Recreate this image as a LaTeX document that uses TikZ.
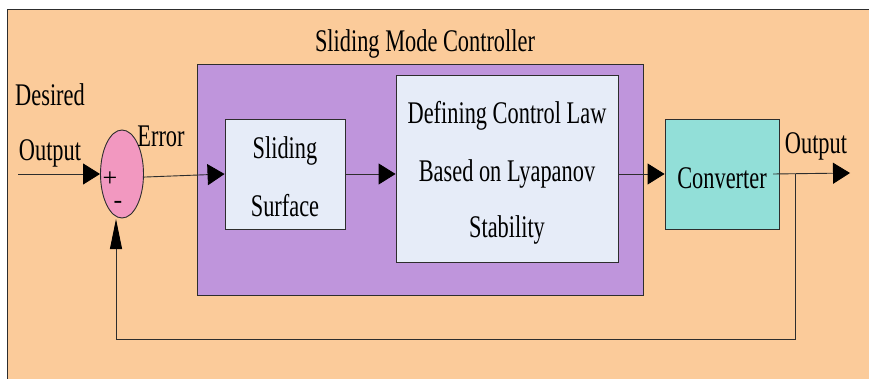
\documentclass[tikz,border=0pt]{standalone}
\usepackage{graphicx}
\usepackage{fontspec}
\setmainfont{Liberation Serif}
\usetikzlibrary{arrows.meta,shapes.geometric,calc}

\definecolor{peach}{RGB}{251,203,154}
\definecolor{lilac}{RGB}{191,149,220}
\definecolor{paleblue}{RGB}{230,236,248}
\definecolor{aqua}{RGB}{146,223,216}
\definecolor{rose}{RGB}{242,152,192}
\definecolor{edge}{RGB}{45,45,45}

% narrow, tall lettering
\newcommand{\narrowtext}[1]{\scalebox{0.71}[1]{#1}}

\tikzset{
  block/.style={draw=edge, line width=0.9pt, inner sep=0pt},
  lbl/.style={inner sep=0pt, font=\fontsize{31.5}{34}\selectfont},
  sign/.style={inner sep=0pt, font=\fontsize{26}{28}\selectfont},
  wire/.style={draw=edge, line width=0.9pt},
  tip/.style={-{Triangle[length=17pt,width=21pt,color=black]}},
  tipnarrow/.style={-{Triangle[length=30pt,width=12pt,color=black]}},
}

\begin{document}
\begin{tikzpicture}[x=1pt,y=-1pt]
  \useasboundingbox (0,0) rectangle (869,379);
  \fill[white] (0,0) rectangle (869,379);

  % outer frame
  \path[fill=peach, draw=edge, line width=0.9pt] (7,9) rectangle (880,390);

  % controller group
  \node[block, fill=lilac, minimum width=446pt, minimum height=231pt] (smc) at (420,179.5) {};
  \node[lbl] (smcl) at (425,44) {\narrowtext{Sliding Mode Controller}};

  % blocks
  \node[block, fill=paleblue, minimum width=120pt, minimum height=110pt] (ss) at (285,174) {};
  \node[lbl] (ss1) at (285,151) {\narrowtext{Sliding}};
  \node[lbl] (ss2) at (285,206) {\narrowtext{Surface}};

  \node[block, fill=paleblue, minimum width=222pt, minimum height=187pt] (cl) at (507,168.5) {};
  \node[lbl] (cl1) at (507,116) {\narrowtext{Defining Control Law}};
  \node[lbl] (cl2) at (507,174) {\narrowtext{Based on Lyapanov}};
  \node[lbl] (cl3) at (507,230) {\narrowtext{Stability}};

  \node[block, fill=aqua, minimum width=114pt, minimum height=110pt] (conv) at (722,174) {};
  \node[lbl] (convl) at (722,178) {\narrowtext{Converter}};

  % summing junction
  \node[ellipse, draw=edge, line width=0.9pt, fill=rose, minimum width=43pt, minimum height=88pt, inner sep=0pt] (sum) at (122,174) {};
  \node[sign] (plus) at (110,179) {+};
  \node[sign] (minus) at (118,205) {-};

  % free labels
  \node[lbl] (des) at (50,95) {\narrowtext{Desired}};
  \node[lbl] (inl) at (50,153) {\narrowtext{Output}};
  \node[lbl] (err) at (161,136) {\narrowtext{Error}};
  \node[lbl] (outl) at (816,146) {\narrowtext{Output}};

  % connectors
  \coordinate (in) at (18,174);
  \coordinate (ostart) at (773,174);
  \coordinate (oend) at (850,173);
  \coordinate (branch) at (795,174);
  \coordinate (fbR) at (795,339);
  \coordinate (fbL) at (116,339);
  \coordinate (fbE) at (116,219);

  \draw[wire, tip] (in) -- (sum.west);
  \draw[wire, tip] (sum.-8) -- (ss.west);
  \draw[wire, tip] (ss.east) -- (ss.east -| cl.west);
  \draw[wire, tip] (cl.east |- conv.west) -- (conv.west);
  \draw[wire, tip] (ostart) -- (oend);
  \draw[wire, tipnarrow] (branch) -- (fbR) -- (fbL) -- (fbE);
\end{tikzpicture}
\end{document}
